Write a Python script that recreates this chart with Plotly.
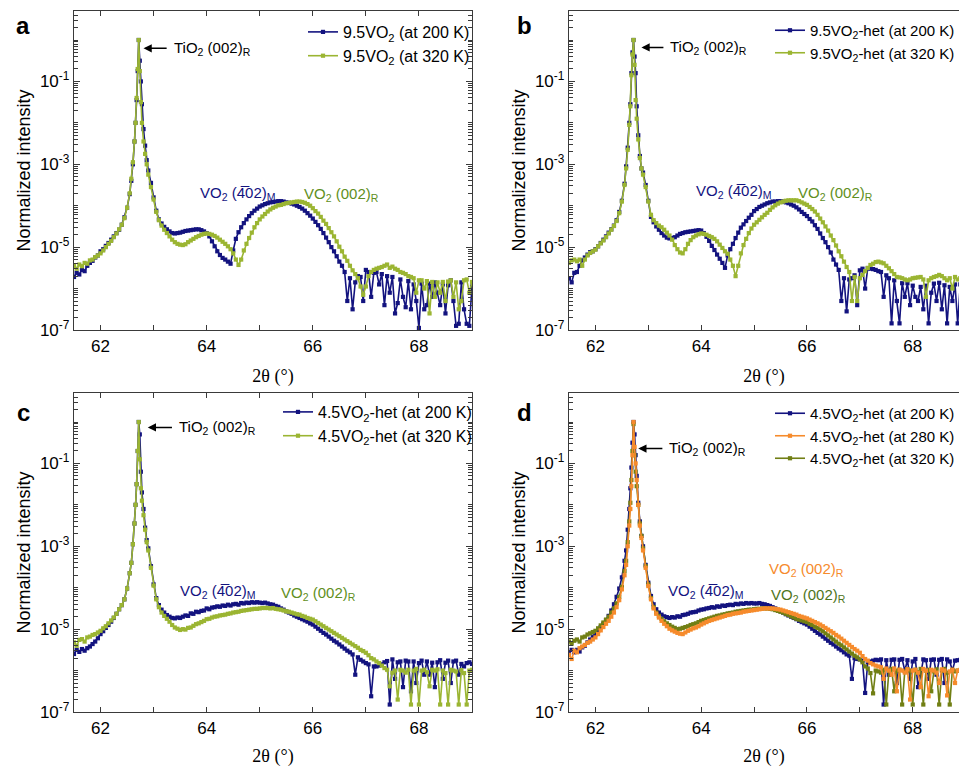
import plotly.graph_objects as go

# ---------------- data: 2theta grid (deg) ----------------
X_LEFT = [round(61.50 + 0.05 * i, 2) for i in range(22)]
X_PEAK = [62.58, 62.61, 62.64, 62.66, 62.68, 62.70, 62.72, 62.74, 62.76, 62.78, 62.81, 62.84, 62.87]
X_RIGHT = [round(62.90 + 0.05 * i, 2) for i in range(123)]
X = X_LEFT + X_PEAK + X_RIGHT

# log10(normalized intensity)
a_200 = [
    -5.72, -5.62, -5.66, -5.55, -5.58, -5.45, -5.38, -5.33, -5.25, -5.2, -5.1, -5.05, -4.97, -4.9, -4.82, -4.74, -4.66, -4.58, -4.46, -4.28, -4.05, -3.72,
    -3.4, -3.0, -2.45, -2.0, -1.45, -0.75, 0.0, -0.5, -1.0, -1.55, -2.15, -2.55, -2.9,
    -3.15, -3.45, -3.8, -4.12, -4.33, -4.43, -4.51, -4.57, -4.62, -4.66,
    -4.67, -4.66, -4.65, -4.63, -4.61, -4.6, -4.59, -4.58, -4.57, -4.57,
    -4.59, -4.62, -4.66, -4.74, -4.86, -4.98, -5.1, -5.19, -5.26, -5.3,
    -5.35, -5.4, -5.08, -4.8, -4.64, -4.52, -4.42, -4.33, -4.25, -4.18,
    -4.12, -4.07, -4.02, -3.99, -3.96, -3.94, -3.92, -3.91, -3.9, -3.89,
    -3.89, -3.9, -3.92, -3.93, -3.95, -3.97, -4.0, -4.03, -4.07, -4.12,
    -4.18, -4.24, -4.31, -4.39, -4.47, -4.56, -4.66, -4.77, -4.88, -5.0,
    -5.1, -5.22, -5.35, -5.45, -5.6, -6.3, -5.75, -6.5, -5.85, -5.7,
    -5.72, -6.3, -5.55, -5.6, -6.2, -5.62, -5.6, -5.9, -5.65, -6.4,
    -5.7, -6.1, -5.72, -6.6, -6.35, -5.78, -6.2, -6.45, -5.82, -6.5,
    -5.9, -6.3, -6.95, -5.88, -6.5, -6.4, -5.88, -6.2, -5.85, -6.1,
    -6.4, -5.9, -6.6, -5.92, -5.8, -6.3, -6.9, -6.85, -5.85, -6.5,
    -6.85, -6.9, -5.95,
]
a_320 = [
    -5.45, -5.52, -5.42, -5.46, -5.38, -5.4, -5.32, -5.3, -5.24, -5.2, -5.15, -5.08, -5.0, -4.92, -4.85, -4.76, -4.67, -4.57, -4.46, -4.3, -4.05, -3.7,
    -3.35, -2.95, -2.45, -2.0, -1.4, -0.7, 0.0, -0.75, -1.5, -2.0, -2.45, -2.75, -3.0,
    -3.25, -3.55, -3.85, -4.15, -4.35, -4.48, -4.58, -4.66, -4.74, -4.82,
    -4.88, -4.92, -4.94, -4.95, -4.93, -4.88, -4.84, -4.8, -4.76, -4.73,
    -4.7, -4.68, -4.67, -4.68, -4.7, -4.73, -4.77, -4.82, -4.87, -4.92,
    -4.98, -5.05, -5.15, -5.3, -5.43, -5.3, -5.08, -4.92, -4.78, -4.65,
    -4.52, -4.42, -4.33, -4.26, -4.2, -4.14, -4.09, -4.05, -4.02, -3.99,
    -3.98, -3.96, -3.94, -3.93, -3.92, -3.91, -3.9, -3.9, -3.91, -3.93,
    -3.96, -4.0, -4.06, -4.13, -4.19, -4.27, -4.36, -4.44, -4.54, -4.64,
    -4.74, -4.86, -4.99, -5.1, -5.23, -5.33, -5.45, -5.56, -5.65, -5.75,
    -5.95, -6.15, -5.95, -5.7, -5.6, -5.55, -5.52, -5.5, -5.48, -5.45,
    -5.42, -5.5, -5.47, -5.52, -5.55, -5.6, -5.62, -5.65, -5.7, -5.72,
    -5.75, -6.1, -5.8, -5.8, -6.0, -5.82, -6.6, -5.84, -6.2, -5.85,
    -6.1, -5.84, -6.3, -5.83, -5.8, -6.2, -5.85, -6.5, -6.3, -5.8,
    -5.78, -6.1, -5.84,
]
b_200 = [
    -5.75, -5.85, -5.62, -5.6, -5.45, -5.32, -5.25, -5.18, -5.12, -5.1, -5.05, -4.98, -4.9, -4.82, -4.74, -4.65, -4.57, -4.48, -4.35, -4.15, -3.88, -3.47,
    -3.05, -2.6, -2.0, -1.55, -0.8, -0.3, 0.0, -0.4, -0.8, -1.6, -2.3, -2.8, -3.1,
    -3.2, -3.5, -3.88, -4.27, -4.4, -4.5, -4.58, -4.66, -4.72, -4.77,
    -4.79, -4.78, -4.76, -4.72, -4.68, -4.66, -4.64, -4.63, -4.62, -4.61,
    -4.6, -4.59, -4.6, -4.66, -4.75, -4.85, -4.97, -5.07, -5.18, -5.28,
    -5.38, -5.5, -5.2, -5.05, -4.92, -4.78, -4.65, -4.53, -4.45, -4.37,
    -4.29, -4.22, -4.13, -4.08, -4.03, -4.0, -3.97, -3.94, -3.92, -3.9,
    -3.9, -3.89, -3.89, -3.9, -3.92, -3.94, -3.97, -4.0, -4.04, -4.09,
    -4.15, -4.2, -4.25, -4.32, -4.38, -4.47, -4.56, -4.67, -4.78, -4.88,
    -5.0, -5.13, -5.3, -5.42, -5.55, -6.3, -5.75, -6.55, -5.78, -5.75,
    -5.68, -6.4, -5.56, -5.52, -6.0, -5.51, -5.52, -5.53, -5.55, -5.58,
    -5.6, -6.2, -5.68, -5.75, -6.84, -5.8, -6.3, -6.84, -5.87, -6.2,
    -5.87, -6.4, -5.93, -6.2, -6.3, -5.96, -6.5, -5.93, -6.84, -6.1,
    -5.88, -6.3, -5.86, -6.5, -5.92, -6.84, -5.96, -6.3, -5.9, -6.84,
    -5.9, -5.88, -5.9,
]
b_320 = [
    -5.38, -5.32, -5.3, -5.34, -5.3, -5.45, -5.3, -5.2, -5.14, -5.1, -5.06, -4.98, -4.91, -4.84, -4.76, -4.67, -4.58, -4.49, -4.37, -4.18, -3.9, -3.5,
    -3.1, -2.65, -2.05, -1.6, -0.85, -0.35, 0.0, -0.6, -1.45, -1.9, -2.4, -2.85, -3.1,
    -3.25, -3.55, -3.9, -4.22, -4.35, -4.42, -4.48, -4.52, -4.58, -4.65,
    -4.72, -4.82, -4.95, -5.05, -5.13, -5.15, -5.05, -4.92, -4.83, -4.76,
    -4.72, -4.69, -4.67, -4.68, -4.7, -4.73, -4.76, -4.8, -4.86, -4.94,
    -5.02, -5.1, -5.16, -5.3, -5.45, -5.7, -5.45, -5.15, -4.95, -4.8,
    -4.66, -4.55, -4.46, -4.4, -4.34, -4.28, -4.22, -4.17, -4.1, -4.04,
    -3.99, -3.95, -3.92, -3.9, -3.88, -3.87, -3.87, -3.87, -3.87, -3.89,
    -3.92, -3.95, -3.98, -4.03, -4.08, -4.14, -4.22, -4.31, -4.4, -4.5,
    -4.6, -4.72, -4.83, -4.96, -5.1, -5.22, -5.35, -5.48, -5.6, -6.3,
    -5.72, -6.3, -5.75, -5.67, -5.58, -5.5, -5.43, -5.4, -5.36, -5.35,
    -5.37, -5.39, -5.45, -5.51, -5.58, -5.65, -5.72, -5.73, -5.75, -5.78,
    -5.8, -5.78, -5.75, -5.74, -5.73, -5.72, -5.78, -6.2, -5.8, -5.75,
    -5.72, -5.7, -5.67, -5.7, -5.75, -5.8, -5.75, -6.0, -5.72, -5.78,
    -5.75, -5.72, -5.75,
]
c_200 = [
    -5.6, -5.5, -5.55, -5.48, -5.52, -5.46, -5.42, -5.36, -5.3, -5.22, -5.12, -5.05, -4.97, -4.9, -4.82, -4.73, -4.63, -4.52, -4.42, -4.28, -4.02, -3.65,
    -3.4, -2.95, -2.45, -2.0, -1.5, -0.7, 0.0, -0.3, -1.2, -1.7, -2.1, -2.55, -2.85,
    -3.05, -3.48, -3.92, -4.25, -4.42, -4.53, -4.6, -4.66, -4.7, -4.73,
    -4.74, -4.72, -4.73, -4.7, -4.67, -4.68, -4.62, -4.63, -4.58, -4.59,
    -4.56, -4.55, -4.5, -4.52, -4.48, -4.47, -4.45, -4.46, -4.43, -4.44,
    -4.41, -4.43, -4.4, -4.39, -4.41, -4.37, -4.38, -4.36, -4.37, -4.35,
    -4.36, -4.35, -4.36, -4.37, -4.36, -4.38, -4.4, -4.41, -4.44, -4.46,
    -4.5, -4.53, -4.57, -4.6, -4.63, -4.67, -4.7, -4.73, -4.76, -4.79,
    -4.82, -4.86, -4.89, -4.94, -4.99, -5.04, -5.09, -5.13, -5.18, -5.23,
    -5.28, -5.32, -5.37, -5.42, -5.47, -5.52, -5.56, -5.61, -6.1, -5.68,
    -5.74, -5.78, -5.82, -5.85, -6.62, -5.9, -5.9, -5.88, -5.85, -5.8,
    -5.77, -6.82, -5.73, -6.2, -5.8, -5.78, -6.4, -5.76, -5.78, -6.5,
    -5.78, -6.3, -5.82, -5.76, -6.1, -5.78, -6.1, -5.81, -6.4, -5.8,
    -5.75, -6.2, -5.81, -5.76, -6.3, -5.78, -5.76, -6.1, -5.84, -5.9,
    -5.82, -5.8, -5.84,
]
c_320 = [
    -5.32, -5.4, -5.26, -5.24, -5.3, -5.2, -5.18, -5.14, -5.12, -5.08, -5.04, -4.98, -4.93, -4.86, -4.79, -4.72, -4.63, -4.52, -4.42, -4.28, -4.02, -3.65,
    -3.4, -2.95, -2.45, -2.0, -1.5, -0.7, 0.0, -0.9, -1.6, -1.9, -2.25, -2.6, -2.9,
    -3.1, -3.52, -3.95, -4.28, -4.47, -4.6, -4.68, -4.75, -4.82, -4.9,
    -4.96, -4.99, -5.02, -5.0, -5.01, -4.97, -4.96, -4.92, -4.88, -4.86,
    -4.83, -4.8, -4.76, -4.75, -4.72, -4.7, -4.69, -4.67, -4.66, -4.65,
    -4.63, -4.62, -4.6, -4.59, -4.58, -4.56, -4.55, -4.54, -4.53, -4.52,
    -4.51, -4.51, -4.5, -4.49, -4.49, -4.49, -4.5, -4.49, -4.51, -4.52,
    -4.53, -4.55, -4.57, -4.58, -4.6, -4.62, -4.64, -4.65, -4.68, -4.7,
    -4.73, -4.75, -4.77, -4.81, -4.85, -4.89, -4.93, -4.97, -5.01, -5.05,
    -5.09, -5.13, -5.17, -5.21, -5.25, -5.29, -5.33, -5.37, -5.41, -5.45,
    -5.5, -5.53, -5.57, -5.63, -5.7, -5.73, -5.78, -5.82, -5.88, -5.94,
    -5.98, -6.38, -6.05, -6.0, -6.7, -5.98, -6.0, -6.05, -5.98, -6.82,
    -6.0, -5.96, -6.82, -6.0, -5.98, -6.04, -6.38, -5.98, -6.0, -5.97,
    -6.82, -6.0, -6.06, -6.82, -5.98, -6.0, -6.02, -6.82, -5.99, -6.06,
    -6.82, -6.0, -5.98,
]
d_200 = [
    -5.58, -5.5, -5.56, -5.5, -5.54, -5.44, -5.4, -5.32, -5.25, -5.18, -5.12, -5.03, -4.95, -4.87, -4.78, -4.68, -4.55, -4.4, -4.22, -4.02, -3.75, -3.35,
    -3.1, -2.6, -2.1, -1.6, -1.1, -0.5, 0.0, -0.3, -0.8, -1.3, -1.95, -2.4, -2.75,
    -3.0, -3.45, -3.88, -4.2, -4.4, -4.52, -4.6, -4.65, -4.69, -4.71,
    -4.73, -4.71, -4.72, -4.69, -4.7, -4.66, -4.65, -4.63, -4.6, -4.59,
    -4.58, -4.55, -4.53, -4.52, -4.5, -4.49, -4.47, -4.48, -4.45, -4.46,
    -4.43, -4.44, -4.42, -4.41, -4.42, -4.39, -4.4, -4.38, -4.39, -4.37,
    -4.38, -4.37, -4.38, -4.38, -4.37, -4.39, -4.4, -4.42, -4.44, -4.47,
    -4.5, -4.54, -4.57, -4.6, -4.64, -4.67, -4.7, -4.73, -4.76, -4.8,
    -4.83, -4.86, -4.89, -4.94, -4.99, -5.04, -5.09, -5.13, -5.18, -5.23,
    -5.28, -5.33, -5.37, -5.42, -5.47, -5.51, -5.56, -5.61, -5.64, -6.2,
    -5.7, -5.72, -5.73, -5.76, -6.54, -5.8, -5.78, -5.76, -5.74, -5.75,
    -5.73, -6.82, -5.75, -6.1, -5.74, -5.73, -6.3, -5.74, -5.72, -6.0,
    -5.75, -6.2, -5.78, -5.72, -6.4, -6.1, -5.73, -5.75, -6.2, -5.74,
    -5.73, -6.1, -5.74, -5.72, -6.3, -5.73, -5.78, -6.0, -5.76, -5.75,
    -5.74, -5.76, -5.75,
]
d_280 = [
    -5.62, -5.72, -5.52, -5.56, -5.46, -5.42, -5.38, -5.33, -5.3, -5.25, -5.2, -5.12, -5.03, -4.95, -4.87, -4.8, -4.7, -4.6, -4.47, -4.3, -4.04, -3.7,
    -3.45, -3.0, -2.5, -2.1, -1.55, -0.8, 0.0, -0.6, -1.0, -1.4, -2.0, -2.5, -2.8,
    -3.1, -3.52, -3.96, -4.28, -4.5, -4.63, -4.72, -4.8, -4.87, -4.93,
    -4.99, -5.03, -5.06, -5.09, -5.11, -5.12, -5.08, -5.04, -5.01, -4.98,
    -4.96, -4.93, -4.89, -4.86, -4.83, -4.8, -4.78, -4.76, -4.74, -4.72,
    -4.7, -4.68, -4.66, -4.65, -4.63, -4.62, -4.61, -4.6, -4.58, -4.57,
    -4.56, -4.55, -4.54, -4.53, -4.52, -4.51, -4.5, -4.5, -4.5, -4.5,
    -4.51, -4.52, -4.53, -4.55, -4.57, -4.59, -4.61, -4.63, -4.65, -4.68,
    -4.7, -4.72, -4.74, -4.77, -4.8, -4.83, -4.86, -4.89, -4.93, -4.97,
    -5.01, -5.05, -5.09, -5.14, -5.18, -5.23, -5.28, -5.33, -5.38, -5.43,
    -5.48, -5.52, -5.57, -5.65, -5.72, -5.76, -5.82, -5.85, -5.88, -5.9,
    -5.92, -6.2, -5.95, -6.0, -6.1, -5.95, -6.5, -5.98, -6.0, -6.05,
    -5.97, -6.7, -6.0, -5.98, -6.05, -6.4, -5.96, -6.0, -6.62, -5.98,
    -6.0, -6.05, -6.3, -5.97, -6.0, -6.6, -6.02, -5.98, -6.3, -6.0,
    -5.98, -6.0, -6.02,
]
d_320 = [
    -5.3, -5.35, -5.28, -5.25, -5.3, -5.2, -5.18, -5.13, -5.1, -5.07, -5.04, -4.98, -4.91, -4.84, -4.77, -4.7, -4.6, -4.5, -4.38, -4.22, -3.98, -3.6,
    -3.35, -2.9, -2.4, -1.95, -1.4, -0.7, -0.05, -0.8, -1.2, -1.55, -2.0, -2.45, -2.75,
    -3.05, -3.48, -3.92, -4.25, -4.47, -4.6, -4.68, -4.75, -4.81, -4.86,
    -4.9, -4.94, -4.97, -5.0, -4.99, -4.97, -4.95, -4.93, -4.9, -4.88,
    -4.86, -4.83, -4.8, -4.78, -4.76, -4.74, -4.72, -4.7, -4.68, -4.67,
    -4.65, -4.64, -4.62, -4.61, -4.6, -4.58, -4.57, -4.56, -4.55, -4.54,
    -4.53, -4.53, -4.52, -4.51, -4.51, -4.5, -4.5, -4.5, -4.51, -4.52,
    -4.54, -4.56, -4.58, -4.6, -4.63, -4.66, -4.69, -4.72, -4.75, -4.77,
    -4.79, -4.81, -4.83, -4.87, -4.9, -4.94, -4.97, -5.01, -5.05, -5.1,
    -5.15, -5.2, -5.25, -5.3, -5.35, -5.39, -5.44, -5.49, -5.54, -5.59,
    -5.64, -5.68, -5.73, -5.8, -5.9, -5.95, -6.06, -6.55, -6.0, -6.02,
    -6.05, -5.98, -6.82, -6.0, -5.96, -6.5, -6.0, -5.98, -6.82, -6.02,
    -5.97, -6.0, -6.82, -5.98, -6.04, -5.96, -6.82, -6.0, -5.98, -6.5,
    -6.02, -5.97, -6.82, -6.0, -5.96, -6.05, -6.82, -5.98, -6.02, -6.0,
    -6.0, -5.98, -6.02,
]

for arr in (a_200, a_320, b_200, b_320, c_200, c_320, d_200, d_280, d_320):
    assert len(arr) == len(X), len(arr)

# ---------------- style ----------------
NAVY = "#13137F"
YGREEN = "#9BB532"
ORANGE = "#F68B2C"
OLIVE = "#717F14"
GREEN_TXT = "#5F8F22"
OLIVE_TXT = "#4F751B"
AXIS = "#3a3a3a"
SANS = "Liberation Sans, Arial, Helvetica, sans-serif"
SERIF = "Liberation Serif, Times New Roman, serif"

W, H = 959, 767
def px(v):
    return v / W
def py(v):
    return 1 - v / H

X_LEFT_DOM = [px(74), px(472)]
X_RIGHT_DOM = [px(569), 1.0]
Y_TOP_DOM = [py(330), py(11)]
Y_BOT_DOM = [py(712), py(393)]

panels = [
    dict(n=1, xd=X_LEFT_DOM, yd=Y_TOP_DOM, xr=[61.5, 69.0], right=False, legend="legend",
         series=[(a_200, NAVY, "9.5VO<sub>2</sub> (at 200 K)", 1),
                 (a_320, YGREEN, "9.5VO<sub>2</sub> (at 320 K)", 2)]),
    dict(n=2, xd=X_RIGHT_DOM, yd=Y_TOP_DOM, xr=[61.5, 68.875], right=True, legend="legend2",
         series=[(b_200, NAVY, "9.5VO<sub>2</sub>-het (at 200 K)", 1),
                 (b_320, YGREEN, "9.5VO<sub>2</sub>-het (at 320 K)", 2)]),
    dict(n=3, xd=X_LEFT_DOM, yd=Y_BOT_DOM, xr=[61.5, 69.0], right=False, legend="legend3",
         series=[(c_200, NAVY, "4.5VO<sub>2</sub>-het (at 200 K)", 1),
                 (c_320, YGREEN, "4.5VO<sub>2</sub>-het (at 320 K)", 2)]),
    dict(n=4, xd=X_RIGHT_DOM, yd=Y_BOT_DOM, xr=[61.5, 68.875], right=True, legend="legend4",
         series=[(d_200, NAVY, "4.5VO<sub>2</sub>-het (at 200 K)", 1),
                 (d_320, OLIVE, "4.5VO<sub>2</sub>-het (at 320 K)", 3),
                 (d_280, ORANGE, "4.5VO<sub>2</sub>-het (at 280 K)", 2)]),
]

Y_TICKS = [1e-7, 1e-5, 1e-3, 1e-1]
Y_TEXT = ["10<sup>-7</sup>", "10<sup>-5</sup>", "10<sup>-3</sup>", "10<sup>-1</sup>"]
Y_MINOR = [m * 10.0 ** k for k in range(-7, 1) for m in range(1, 10)
           if m * 10.0 ** k < 5.0 and not (m == 1 and k in (-7, -5, -3, -1))]
X_TICKS = [62, 64, 66, 68]
X_MINOR = [63, 65, 67, 69]

fig = go.Figure()
layout = dict(
    width=W, height=H, margin=dict(l=0, r=0, t=0, b=0, autoexpand=False),
    paper_bgcolor="white", plot_bgcolor="white",
    font=dict(family=SANS, color="black", size=15),
    showlegend=True,
)

for p in panels:
    n = p["n"]
    xa = "x" if n == 1 else f"x{n}"
    ya = "y" if n == 1 else f"y{n}"
    for vals, color, name, rank in p["series"]:
        fig.add_trace(go.Scatter(
            x=X, y=[10.0 ** v for v in vals], xaxis=xa, yaxis=ya,
            mode="lines+markers", name=name, legend=p["legend"], legendrank=rank,
            line=dict(color=color, width=1.6),
            marker=dict(symbol="square", size=4.2, color=color),
        ))
    xkey = "xaxis" if n == 1 else f"xaxis{n}"
    ykey = "yaxis" if n == 1 else f"yaxis{n}"
    layout[xkey] = dict(
        domain=p["xd"], anchor=ya, range=p["xr"], automargin=False,
        tickmode="array", tickvals=X_TICKS,
        ticks="inside", ticklen=5, tickwidth=1.2, tickcolor=AXIS,
        minor=dict(tickmode="array", tickvals=X_MINOR, ticks="inside", ticklen=5, tickwidth=1.2, tickcolor=AXIS),
        showline=True, linecolor=AXIS, linewidth=1.4, mirror="ticks" if not p["right"] else True,
        showgrid=False, zeroline=False,
        tickfont=dict(size=17, family=SANS),
        title=dict(text="2θ (°)", font=dict(size=18, family=SERIF), standoff=14),
    )
    layout[ykey] = dict(
        domain=p["yd"], anchor=xa, type="log", range=[-7, 0.7], automargin=False,
        tickmode="array", tickvals=Y_TICKS, ticktext=Y_TEXT,
        ticks="inside", ticklen=6, tickwidth=1.2, tickcolor=AXIS,
        minor=dict(tickmode="array", tickvals=Y_MINOR, ticks="inside", ticklen=3.5, tickwidth=1, tickcolor=AXIS),
        showline=True, linecolor=AXIS, linewidth=1.4, mirror="ticks" if not p["right"] else False,
        showgrid=False, zeroline=False,
        tickfont=dict(size=17, family=SANS),
        title=dict(text="Normalized intensity", font=dict(size=18, family=SANS), standoff=4),
    )

# (left x px, top y px, font size)
legend_pos = {"legend": (303, 15, 16), "legend2": (770, 14, 15),
              "legend3": (278, 395, 16), "legend4": (770, 397, 15)}
for key, (lx, ly, fs) in legend_pos.items():
    layout[key] = dict(x=px(lx), y=py(ly), xanchor="left", yanchor="top",
                       bgcolor="rgba(0,0,0,0)", borderwidth=0,
                       font=dict(size=fs, family=SANS, color="black"),
                       traceorder="normal", itemwidth=30)

annotations = []
# panel letters
for letter, (lx, ly) in {"a": (23, 25), "b": (524, 25), "c": (23, 412), "d": (524, 412)}.items():
    annotations.append(dict(text=f"<b>{letter}</b>", xref="paper", yref="paper", x=px(lx), y=py(ly),
                            showarrow=False, xanchor="center", yanchor="middle",
                            font=dict(size=24, family=SANS, color="black")))

TIO2 = "TiO<sub>2</sub> (002)<sub>R</sub>"
M402 = "VO<sub>2</sub> (4\u0305" + "02)<sub>M</sub>"
R002 = "VO<sub>2</sub> (002)<sub>R</sub>"

def arrow_label(n, head_x, text_x, y_log):
    xa = "x" if n == 1 else f"x{n}"
    ya = "y" if n == 1 else f"y{n}"
    annotations.append(dict(x=head_x, y=y_log, ax=text_x, ay=y_log, xref=xa, yref=ya, axref=xa, ayref=ya,
                            text=TIO2, xanchor="left", yanchor="middle",
                            showarrow=True, arrowhead=2, arrowsize=1.1, arrowwidth=1.5,
                            arrowcolor="black", standoff=0, startstandoff=5,
                            font=dict(size=15, color="black")))

arrow_label(1, 62.81, 63.34, -0.2)
arrow_label(2, 62.87, 63.38, -0.18)
arrow_label(3, 62.89, 63.44, -0.13)
arrow_label(4, 62.81, 63.36, -0.64)

def label(n, x, y_log, text, color):
    xa = "x" if n == 1 else f"x{n}"
    ya = "y" if n == 1 else f"y{n}"
    annotations.append(dict(x=x, y=y_log, xref=xa, yref=ya, text=text, showarrow=False,
                            xanchor="left", yanchor="middle", font=dict(size=15, color=color)))

label(1, 63.83, -3.7, M402, NAVY)
label(1, 65.80, -3.74, R002, GREEN_TXT)
label(2, 63.87, -3.66, M402, NAVY)
label(2, 65.79, -3.7, R002, GREEN_TXT)
label(3, 63.46, -4.08, M402, NAVY)
label(3, 65.37, -4.15, R002, GREEN_TXT)
label(4, 63.33, -4.08, M402, NAVY)
label(4, 65.24, -3.55, R002, ORANGE)
label(4, 65.28, -4.18, R002, OLIVE_TXT)

layout["annotations"] = annotations
fig.update_layout(**layout)
fig.write_html("out.html")
